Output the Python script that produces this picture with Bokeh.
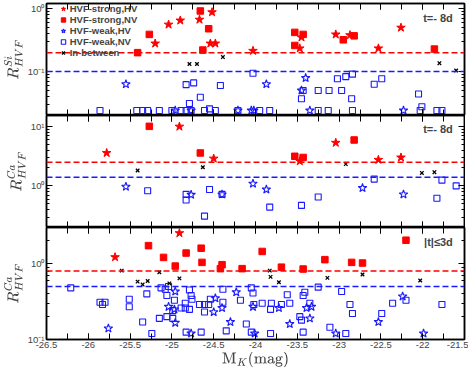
from bokeh.plotting import figure
from bokeh.layouts import column
from bokeh.models import (FixedTicker, SingleIntervalTicker, CustomJSTickFormatter,
                          LinearAxis, LogAxis, Span, Label, Legend, LegendItem, Range1d)
from bokeh.embed import file_html
from bokeh.resources import INLINE

RED = "#ff0000"
BLUE = "#1a1aff"
X_RANGE = (-26.5, -21.5)

# ---------------- Panel 1: R^Si_HVF, t = -8d ----------------
si_strong_hv_x = [-25.20, -25.04, -24.90, -24.67, -24.52, -24.54, -24.48, -24.03, -23.45, -23.47, -23.04, -22.87, -22.53, -22.26]
si_strong_hv_y = [0.28, 0.56, 0.65, 0.67, 0.88, 0.28, 0.28, 0.214, 0.35, 0.234, 0.39, 0.38, 0.234, 0.50]
si_strong_nv_x = [-25.41, -25.27, -24.66, -24.56, -24.63, -23.53, -23.43, -23.53, -22.95, -22.82, -21.86]
si_strong_nv_y = [0.20, 0.39, 0.92, 0.48, 0.22, 0.42, 0.39, 0.26, 0.32, 0.37, 0.228]
si_weak_hv_x = [-25.55, -24.96, -24.77, -24.21, -24.05, -24.02, -23.87, -23.40, -23.45, -23.35, -22.23]
si_weak_hv_y = [0.063, 0.024, 0.024, 0.024, 0.024, 0.024, 0.063, 0.079, 0.050, 0.024, 0.024]
si_weak_nv_x = [-25.86, -25.42, -25.35, -25.29, -25.15, -25.00, -24.89, -24.83, -24.83, -24.74, -24.79, -24.66,
                -24.55, -24.61, -24.48, -24.42, -24.21, -24.77,
                -24.03, -23.43, -23.45, -23.25, -23.12, -22.97, -23.02, -22.92, -22.84, -22.85, -22.58, -22.49,
                -22.05, -22.01, -23.95, -23.83, -23.25, -23.13, -22.84, -22.03, -21.83, -21.77]
si_weak_nv_y = [0.024, 0.024, 0.024, 0.024, 0.024, 0.024, 0.024, 0.024, 0.062, 0.066, 0.031, 0.039,
                0.0255, 0.024, 0.024, 0.060, 0.024, 0.024,
                0.094, 0.050, 0.037, 0.050, 0.050, 0.050, 0.077, 0.083, 0.091, 0.037, 0.063, 0.077,
                0.044, 0.0275, 0.024, 0.024, 0.024, 0.024, 0.024, 0.024, 0.024, 0.024]
si_between_x = [-24.79, -24.70, -24.39, -21.80, -21.60]
si_between_y = [0.132, 0.132, 0.17, 0.136, 0.104]
si_thr_strong, si_thr_weak = 0.2, 0.1

# ---------------- Panel 2: R^Ca_HVF, t = -8d ----------------
ca8_strong_hv_x = [-25.78, -24.91, -24.50, -23.47, -23.04, -22.53, -22.26]
ca8_strong_hv_y = [3.57, 9.9, 2.88, 2.6, 5.3, 2.74, 3.0]
ca8_strong_nv_x = [-25.27, -24.66, -23.53, -23.43, -22.82]
ca8_strong_nv_y = [10.0, 3.57, 3.14, 3.0, 5.9]
ca8_weak_hv_x = [-25.55, -24.77, -24.40, -24.03, -23.87, -22.72, -22.23]
ca8_weak_hv_y = [0.97, 0.71, 0.72, 1.09, 0.87, 0.92, 0.72]
ca8_weak_nv_x = [-25.29, -24.83, -24.83, -24.55, -24.61, -24.40, -23.83, -23.45, -23.25, -22.58, -21.83, -21.77, -21.60]
ca8_weak_nv_y = [0.83, 0.72, 0.58, 0.87, 0.31, 0.72, 0.44, 0.47, 0.65, 1.30, 0.62, 1.25, 1.0]
ca8_between_x = [-25.41, -24.63, -22.92, -22.01, -21.86]
ca8_between_y = [1.81, 2.05, 2.32, 1.65, 1.70]
ca8_thr_strong, ca8_thr_weak = 2.5, 1.4

# ---------------- Panel 3: R^Ca_HVF, |t| <= 3d ----------------
ca3_strong_hv_x = [-25.68, -24.91]
ca3_strong_hv_y = [1.22, 2.53]
ca3_strong_nv_x = [-25.28, -25.10, -24.96, -24.83, -24.65, -24.64, -24.40, -24.42, -24.16, -23.92, -23.69, -23.43,
                   -23.17, -22.85, -22.72, -22.20]
ca3_strong_nv_y = [1.73, 1.21, 0.93, 1.38, 1.60, 1.04, 0.97, 0.86, 0.86, 1.45, 0.90, 0.85, 1.13, 1.04, 1.02, 2.04]
ca3_weak_hv_x = [-25.76, -24.96, -25.04, -24.97, -24.96, -24.77, -24.50, -24.48, -24.40, -24.30, -24.23, -24.03,
                 -23.72, -23.59, -23.39, -23.33, -23.35, -24.01, -23.04, -22.53, -22.24, -21.99]
ca3_weak_hv_y = [0.14, 0.43, 0.27, 0.25, 0.166, 0.12, 0.23, 0.35, 0.26, 0.17, 0.42, 0.27,
                 0.26, 0.16, 0.26, 0.27, 0.19, 0.12, 0.12, 0.17, 0.37, 0.12]
ca3_weak_nv_x = [-26.21, -25.86, -25.83, -25.80, -25.51, -25.51, -25.35, -25.30, -25.24, -25.15, -25.13, -25.08,
                 -25.06, -25.06, -25.04, -24.97, -24.99, -24.99, -24.89, -24.84, -24.84, -24.83, -24.79, -24.79,
                 -24.77, -24.76, -24.67, -24.61, -24.56, -24.61, -24.65, -24.54, -24.39, -24.39, -24.35, -24.18,
                 -24.05, -24.03, -24.02, -24.11, -24.05, -23.92, -23.81, -23.82, -23.69, -23.82, -23.62, -23.59,
                 -23.41, -23.43, -23.35, -23.47, -23.45, -23.43, -23.25, -23.11, -22.97, -22.92, -22.87, -22.84,
                 -22.49, -22.36, -22.20, -21.77]
ca3_weak_nv_y = [0.48, 0.31, 0.29, 0.31, 0.34, 0.27, 0.17, 0.40, 0.12, 0.19, 0.48, 0.46,
                 0.38, 0.20, 0.50, 0.33, 0.24, 0.19, 0.26, 0.26, 0.30, 0.125, 0.45, 0.25,
                 0.38, 0.34, 0.29, 0.29, 0.29, 0.23, 0.125, 0.34, 0.31, 0.46, 0.13, 0.33,
                 0.48, 0.41, 0.29, 0.16, 0.125, 0.30, 0.30, 0.25, 0.29, 0.12, 0.39, 0.30,
                 0.42, 0.38, 0.30, 0.20, 0.18, 0.125, 0.49, 0.145, 0.43, 0.12, 0.29, 0.22,
                 0.22, 0.30, 0.33, 0.29]
ca3_between_x = [-25.60, -25.41, -25.35, -25.29, -25.15, -25.03, -24.91, -23.83, -23.82, -23.72, -23.14, -22.72, -22.03]
ca3_between_y = [0.81, 0.58, 0.53, 0.59, 0.77, 0.55, 0.64, 0.81, 0.67, 0.57, 0.65, 0.72, 0.60]
ca3_thr_strong, ca3_thr_weak = 0.8, 0.5

LEGEND_LABELS = ["HVF-strong,HV", "HVF-strong,NV", "HVF-weak,HV", "HVF-weak,NV", "In-between"]

SUP_FMT = CustomJSTickFormatter(code="""
const e = Math.round(Math.log10(tick));
const s = {'-':'\u207b','0':'\u2070','1':'\u00b9','2':'\u00b2','3':'\u00b3'};
return '10' + String(e).split('').map(c => s[c]).join('');
""")
X_FMT = CustomJSTickFormatter(code="return String(Math.round(tick*10)/10);")
EMPTY_FMT = CustomJSTickFormatter(code="return '';")

FRAME_H = 112
LEG_BOX_H = 11      # height of one legend row box (px)
LEG_TOP = 5.6       # centre of first legend row below frame top (px)
LEG_STEP = 11       # distance between legend rows (px)


def y_ticks(lo, hi):
    major = [10.0 ** e for e in range(-3, 3) if lo <= 10.0 ** e <= hi]
    minor = [m * 10.0 ** e for e in range(-3, 3) for m in range(2, 10) if lo <= m * 10.0 ** e <= hi]
    return major, minor


def style_axis(ax, labels, is_x):
    ax.major_tick_in = 6
    ax.major_tick_out = 0
    ax.minor_tick_in = 6 if is_x else 3
    ax.minor_tick_out = 0
    ax.axis_line_width = 1.5
    ax.axis_line_color = "black"
    ax.major_tick_line_color = "black"
    ax.minor_tick_line_color = "black"
    ax.major_tick_line_width = 1
    ax.minor_tick_line_width = 1
    ax.major_label_text_font = "Liberation Sans"
    ax.major_label_text_font_size = "9.5px"
    ax.major_label_standoff = 2
    if not labels:
        ax.formatter = EMPTY_FMT
        ax.major_label_text_font_size = "0px"
        ax.major_label_standoff = 0


def make_panel(yr, y_label, top_border, show_x):
    major, minor = y_ticks(*yr)
    yt = FixedTicker(ticks=major, minor_ticks=minor)
    xt = SingleIntervalTicker(interval=0.5, num_minor_ticks=2)
    p = figure(frame_width=418, frame_height=FRAME_H, x_range=Range1d(*X_RANGE), y_range=Range1d(*yr),
               y_axis_type="log", output_backend="svg", toolbar_location=None,
               min_border_left=43, min_border_right=4, min_border_top=top_border, min_border_bottom=0)
    p.xgrid.visible = False
    p.ygrid.visible = False
    p.outline_line_color = "black"
    p.outline_line_width = 1.5

    xa = p.xaxis[0]
    xa.ticker = xt
    xa.formatter = X_FMT
    style_axis(xa, show_x, True)
    if show_x:
        xa.axis_label = r"$$\mathrm{M}_{K}(\mathrm{mag})$$"
        xa.axis_label_text_font_size = "12px"
        xa.axis_label_standoff = 1
    top = LinearAxis(ticker=xt)
    style_axis(top, False, True)
    p.add_layout(top, "above")

    ya = p.yaxis[0]
    ya.ticker = yt
    ya.formatter = SUP_FMT
    style_axis(ya, True, False)
    ya.axis_label = y_label
    ya.axis_label_text_font_size = "12px"
    ya.axis_label_standoff = 2
    right = LogAxis(ticker=yt)
    style_axis(right, False, False)
    p.add_layout(right, "right")
    return p


def draw(p, shv, snv, whv, wnv, btw, thr_s, thr_w):
    p.add_layout(Span(location=thr_s, dimension="width", line_color=RED, line_dash="6 3", line_width=1.5))
    p.add_layout(Span(location=thr_w, dimension="width", line_color=BLUE, line_dash="6 3", line_width=1.5))
    r_wnv = p.scatter(wnv[0], wnv[1], marker="square", size=6, fill_color=None, line_color=BLUE, line_width=1.1)
    r_whv = p.scatter(whv[0], whv[1], marker="star", size=9, fill_color=None, line_color=BLUE, line_width=1.1)
    r_btw = p.scatter(btw[0], btw[1], marker="x", size=5, line_color="black", line_width=1.3)
    r_snv = p.scatter(snv[0], snv[1], marker="square", size=6.5, fill_color=RED, line_color=RED)
    r_shv = p.scatter(shv[0], shv[1], marker="star", size=9, fill_color=RED, line_color=RED)
    return [r_shv, r_snv, r_whv, r_wnv, r_btw]


def add_tag(p, text, y):
    p.add_layout(Label(x=-21.64, y=y, text=text, text_align="right", text_baseline="middle",
                       text_font="Liberation Sans", text_font_style="bold", text_font_size="11px"))


p1 = make_panel((0.02, 1.21), r"$$R^{Si}_{HVF}$$", 3, False)
rs = draw(p1, (si_strong_hv_x, si_strong_hv_y), (si_strong_nv_x, si_strong_nv_y),
          (si_weak_hv_x, si_weak_hv_y), (si_weak_nv_x, si_weak_nv_y), (si_between_x, si_between_y),
          si_thr_strong, si_thr_weak)
add_tag(p1, "t=- 8d", 0.72)
for i, (lab, r) in enumerate(zip(LEGEND_LABELS, rs)):
    centre = LEG_TOP + i * LEG_STEP
    p1.add_layout(Legend(items=[LegendItem(label=lab, renderers=[r])],
                         location=(10.7, FRAME_H - centre - LEG_BOX_H / 2),
                         border_line_alpha=0, background_fill_alpha=0,
                         label_text_font="Liberation Sans", label_text_font_style="bold",
                         label_text_font_size="9.5px", glyph_width=12, glyph_height=LEG_BOX_H,
                         label_height=LEG_BOX_H, spacing=0, padding=0, margin=0, label_standoff=1))

p2 = make_panel((0.2, 15.2), r"$$R^{Ca}_{HVF}$$", 0, False)
draw(p2, (ca8_strong_hv_x, ca8_strong_hv_y), (ca8_strong_nv_x, ca8_strong_nv_y),
     (ca8_weak_hv_x, ca8_weak_hv_y), (ca8_weak_nv_x, ca8_weak_nv_y), (ca8_between_x, ca8_between_y),
     ca8_thr_strong, ca8_thr_weak)
add_tag(p2, "t=- 8d", 9.0)

p3 = make_panel((0.1, 3.0), r"$$R^{Ca}_{HVF}$$", 0, True)
draw(p3, (ca3_strong_hv_x, ca3_strong_hv_y), (ca3_strong_nv_x, ca3_strong_nv_y),
     (ca3_weak_hv_x, ca3_weak_hv_y), (ca3_weak_nv_x, ca3_weak_nv_y), (ca3_between_x, ca3_between_y),
     ca3_thr_strong, ca3_thr_weak)
add_tag(p3, "|t|\u22643d", 1.95)

layout = column(p1, p2, p3, spacing=0)
open("out.html", "w").write(file_html(layout, INLINE))
